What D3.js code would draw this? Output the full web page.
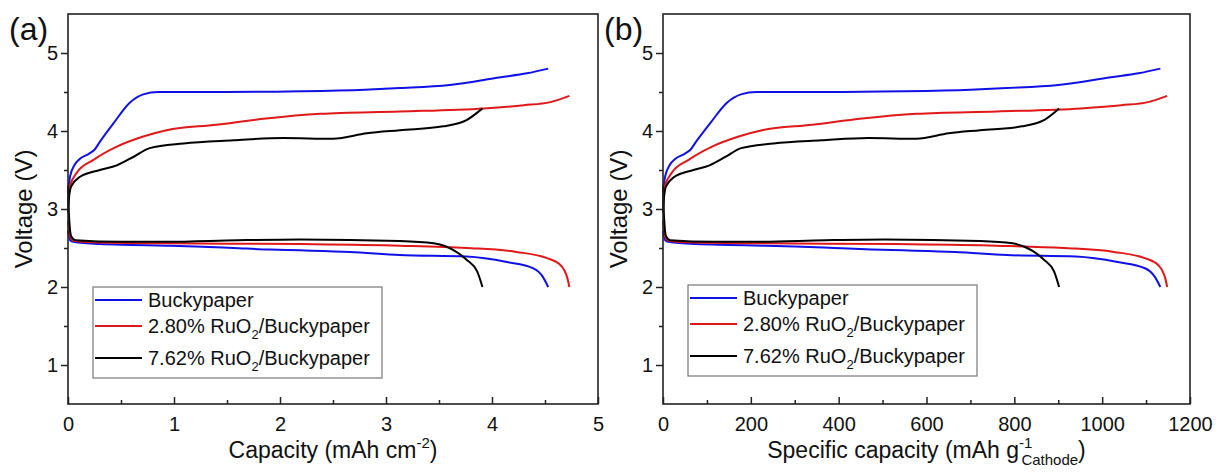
<!DOCTYPE html>
<html>
<head>
<meta charset="utf-8">
<script src="https://cdn.jsdelivr.net/npm/d3@7"></script>
<style>
  body { margin: 0; background: #fff; }
  svg, svg text { font-family: Arial, "Liberation Sans", sans-serif; }
  .tick text { font-size: 20px; fill: #111; font-family: Arial, "Liberation Sans", sans-serif; }
</style>
</head>
<body>
<div id="chart"></div>
<script>
// areal capacity (mAh cm-2) vs voltage (V)
const blueCharge = [[0, 3.22], [0.02, 3.42], [0.06, 3.56], [0.11, 3.64], [0.2, 3.71], [0.25, 3.76], [0.3, 3.86],
  [0.43, 4.1], [0.58, 4.36], [0.71, 4.47], [0.85, 4.5], [1.5, 4.5], [2.19, 4.51], [2.8, 4.53], [3.13, 4.55],
  [3.6, 4.59], [4.08, 4.69], [4.33, 4.74], [4.53, 4.8]]
const redCharge = [[0, 3.05], [0.02, 3.3], [0.08, 3.46], [0.24, 3.63], [0.46, 3.8], [0.71, 3.93], [0.93, 4.01],
  [1.4, 4.08], [1.87, 4.16], [2.38, 4.22], [3.13, 4.25], [3.92, 4.29], [4.3, 4.33], [4.55, 4.37], [4.73, 4.45]]
const blackCharge = [[0, 2.95], [0.01, 3.15], [0.03, 3.29], [0.11, 3.41], [0.3, 3.5], [0.46, 3.56], [0.62, 3.67],
  [0.77, 3.78], [1.09, 3.84], [1.56, 3.88], [2.03, 3.91], [2.5, 3.9], [2.82, 3.97], [3.13, 4.01], [3.54, 4.06],
  [3.76, 4.14], [3.91, 4.29]]
const blueDischarge = [[0, 2.72], [0.02, 2.6], [0.05, 2.58], [0.3, 2.55], [0.6, 2.54], [0.93, 2.53], [1.2, 2.52],
  [1.56, 2.5], [1.9, 2.48], [2.19, 2.47], [2.66, 2.45], [3.13, 2.41], [3.76, 2.39], [4.14, 2.32], [4.39, 2.24],
  [4.48, 2.13], [4.53, 2.0]]
const redDischarge = [[0, 2.85], [0.02, 2.65], [0.06, 2.59], [0.3, 2.57], [0.93, 2.56], [2.19, 2.55], [3.13, 2.53],
  [3.76, 2.5], [4.23, 2.45], [4.52, 2.37], [4.63, 2.3], [4.68, 2.22], [4.71, 2.12], [4.73, 2.0]]
const blackDischarge = [[0, 3.3], [0.01, 2.9], [0.03, 2.65], [0.07, 2.6], [0.5, 2.58], [0.93, 2.58], [1.6, 2.6],
  [2.19, 2.61], [3.13, 2.59], [3.45, 2.56], [3.64, 2.47], [3.76, 2.35], [3.86, 2.2], [3.91, 2.0]]

const seriesNames = ['Buckypaper', '2.80% RuO', '7.62% RuO']
const seriesColors = ['#1010e8', '#e01818', '#000']
// cathode loading (mg cm-2) used for panel (b): mAh g-1 = mAh cm-2 / mg cm-2 * 1000
const cathodeLoading = [4.0, 4.12, 4.335]

const xTicksA = [0, 1, 2, 3, 4, 5]
const xTicksB = [0, 200, 400, 600, 800, 1000, 1200]
const yTicks = [1, 2, 3, 4, 5]

const W = 1217, H = 472
const svg = d3.select('#chart').append('svg').attr('width', W).attr('height', H)

const curves = [
  [blueCharge, blueDischarge],
  [redCharge, redDischarge],
  [blackCharge, blackDischarge]
]

function panel(opt) {
  const g = svg.append('g')
  const x = d3.scaleLinear().domain(opt.xDomain).range([opt.left, opt.right])
  const y = d3.scaleLinear().domain([0.5, 5.5]).range([404, 14])

  // y axis, ticks outward
  g.append('g').attr('transform', `translate(${opt.left},0)`)
    .call(d3.axisLeft(y).tickValues(yTicks).tickSize(7).tickPadding(3).tickFormat(d3.format('d')))
    .call(a => a.select('.domain').remove())
  g.append('g').attr('transform', `translate(${opt.left},0)`)
    .call(d3.axisLeft(y).tickValues([1.5, 2.5, 3.5, 4.5]).tickSize(4).tickFormat(''))
    .call(a => a.select('.domain').remove())

  // x axis, ticks inward
  g.append('g').attr('transform', 'translate(0,404)')
    .call(d3.axisBottom(x).tickValues(opt.xTicks).tickSize(-7).tickPadding(13).tickFormat(d3.format('d')))
    .call(a => a.select('.domain').remove())
  g.append('g').attr('transform', 'translate(0,404)')
    .call(d3.axisBottom(x).tickValues(opt.xMinor).tickSize(-4).tickFormat(''))
    .call(a => a.select('.domain').remove())
  g.selectAll('.tick line').attr('stroke', '#222').attr('stroke-width', 1.5)

  const line = d3.line().x(d => x(d[0])).y(d => y(d[1])).curve(d3.curveMonotoneX)
  curves.forEach((pair, i) => {
    pair.forEach(data => {
      g.append('path')
        .attr('d', line(data.map(d => [opt.conv(d[0], i), d[1]])))
        .attr('fill', 'none')
        .attr('stroke', seriesColors[i])
        .attr('stroke-width', 2)
    })
  })

  g.append('rect')
    .attr('x', opt.left).attr('y', 14)
    .attr('width', opt.right - opt.left).attr('height', 390)
    .attr('fill', 'none').attr('stroke', '#222').attr('stroke-width', 1.6)

  // legend
  const lg = g.append('g')
  lg.append('rect')
    .attr('x', opt.legX).attr('y', opt.legY)
    .attr('width', 289).attr('height', 91)
    .attr('fill', '#fff').attr('stroke', '#777').attr('stroke-width', 1.2)
  const rowY = [20, 46, 78]
  seriesNames.forEach((name, i) => {
    const ly = opt.legY + rowY[i] - 7
    lg.append('line')
      .attr('x1', opt.legX + 2).attr('x2', opt.legX + 49)
      .attr('y1', ly).attr('y2', ly)
      .attr('stroke', seriesColors[i]).attr('stroke-width', 2)
    const t = lg.append('text')
      .attr('x', opt.legX + 55).attr('y', opt.legY + rowY[i])
      .attr('font-size', 20).attr('fill', '#111')
    t.append('tspan').text(name)
    if (i > 0) {
      t.append('tspan').attr('font-size', 13).attr('dy', 6).text('2')
      t.append('tspan').attr('dy', -6).text('/Buckypaper')
    }
  })

  // axis titles
  g.append('text')
    .attr('transform', `translate(${opt.left - 36},209) rotate(-90)`)
    .attr('text-anchor', 'middle').attr('font-size', 24).attr('fill', '#111')
    .text('Voltage (V)')
  opt.xTitle(g.append('text')
    .attr('x', (opt.left + opt.right) / 2).attr('y', 458)
    .attr('text-anchor', 'middle').attr('font-size', 23).attr('fill', '#111'))

  g.append('text')
    .attr('x', opt.left - 59).attr('y', 40)
    .attr('font-size', 32).attr('fill', '#111')
    .text(opt.label)
}

panel({
  left: 68, right: 598, xDomain: [0, 5], xTicks: xTicksA, xMinor: [0.5, 1.5, 2.5, 3.5, 4.5],
  conv: (c) => c, legX: 93, legY: 287, label: '(a)',
  xTitle: t => {
    t.append('tspan').text('Capacity (mAh cm')
    t.append('tspan').attr('font-size', 15).attr('dy', -10).text('-2')
    t.append('tspan').attr('dy', 10).text(')')
  }
})

panel({
  left: 663, right: 1190, xDomain: [0, 1200], xTicks: xTicksB, xMinor: [100, 300, 500, 700, 900, 1100],
  conv: (c, i) => c / cathodeLoading[i] * 1000, legX: 688, legY: 285, label: '(b)',
  xTitle: t => {
    t.append('tspan').text('Specific capacity (mAh g')
    t.append('tspan').attr('font-size', 15).attr('dy', -10).text('-1')
    t.append('tspan').attr('font-size', 15).attr('dx', -11).attr('dy', 17).text('Cathode')
    t.append('tspan').attr('dy', -7).text(')')
  }
})
</script>
</body>
</html>
